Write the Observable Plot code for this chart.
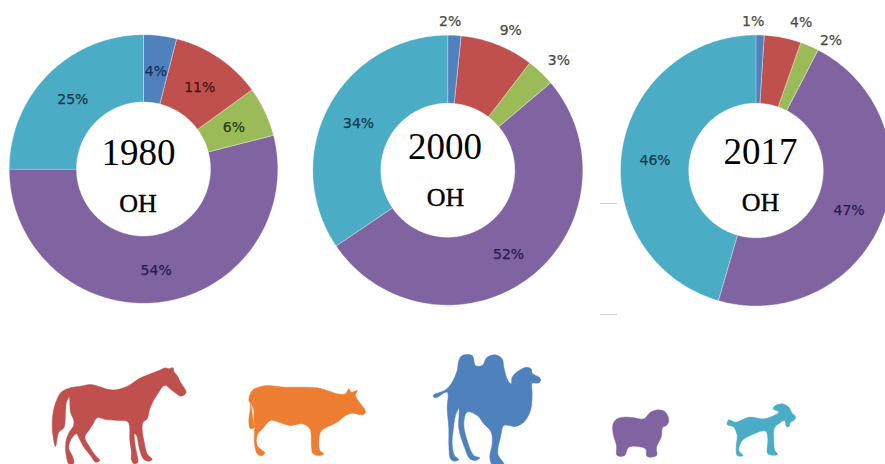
<!DOCTYPE html>
<html><head><meta charset="utf-8">
<style>html,body{margin:0;padding:0;background:#fff;overflow:hidden}svg{display:block}</style>
<script src="https://cdn.jsdelivr.net/npm/d3@7"></script>
<script src="https://cdn.jsdelivr.net/npm/@observablehq/plot@0.6"></script>
</head><body><div id="chart"></div>
<script>
// ---- data ----
const years = ["1980", "2000", "2017"];
const unit = "OH";
const shares1980 = [4, 11, 6, 54, 25];
const shares2000 = [1.6, 8.8, 3.4, 51.6, 34.4];
const shares2017 = [1, 4.4, 2.2, 46.9, 45.5];
const colors = ["#4F81BD", "#C0504D", "#9BBB59", "#8064A2", "#4BACC6"];
const inkInside = ["#17305a", "#4a1412", "#2c3a10", "#2a1a50", "#0f3a4e"];
const ticksGray = [203, 314];

// ---- layout ----
const pies = [
  {shares: shares1980, cx: 143, cy: 168.5, R: 134.3, r: 67, title: [138, 164.5], sub: [137.5, 211],
   radial: [[0,99],[0,100],[0,100],[0,101],[0,100]]},
  {shares: shares2000, cx: 447.3, cy: 169.7, R: 135, r: 67, title: [444.5, 158], sub: [445, 205],
   radial: [[-2,150],[2.5,154],[1.4,157],[1,103],[0,101]]},
  {shares: shares2017, cx: 755.5, cy: 170, R: 135.5, r: 67.3, title: [760, 163], sub: [760, 210],
   radial: [[-2.9,150],[5.3,156],[6.4,151],[1,101],[-2,101.5]]}
];

const horse = [[405,82],[413,85],[428,82],[430,93],[440,105],[450,125],[463,145],[467,155],[462,163],[450,167],[438,160],[422,148],[405,135],[395,140],[385,155],[370,178],[358,205],[350,235],[338,245],[335,265],[342,310],[350,340],[365,357],[355,362],[340,357],[328,330],[318,285],[312,280],[315,320],[320,345],[322,365],[310,370],[302,355],[303,340],[298,300],[293,245],[265,240],[230,238],[200,232],[188,250],[175,270],[163,290],[178,320],[195,345],[208,360],[195,365],[180,345],[160,320],[145,292],[138,280],[120,300],[115,325],[125,345],[130,368],[115,370],[108,350],[105,320],[108,295],[118,272],[128,258],[130,240],[120,215],[116,170],[108,185],[105,215],[100,262],[85,275],[75,318],[68,290],[65,255],[68,215],[78,180],[92,155],[115,143],[150,137],[180,132],[205,138],[240,148],[265,146],[295,135],[325,115],[360,100],[390,88]];
const cow = [[710,135],[760,140],[810,140],[860,142],[890,150],[920,160],[945,160],[955,145],[962,155],[980,150],[975,165],[990,190],[1005,212],[1000,222],[985,222],[965,218],[945,225],[920,245],[885,262],[870,275],[865,310],[868,330],[880,340],[870,345],[848,340],[843,320],[838,265],[815,250],[780,255],[745,245],[720,240],[700,260],[680,285],[680,315],[703,338],[690,346],[680,340],[672,310],[672,268],[670,230],[670,210],[662,190],[668,240],[670,262],[660,265],[655,245],[660,190],[655,180],[665,150],[685,140]];
const camel = [[125,45],[155,45],[165,75],[185,75],[200,50],[225,43],[245,55],[250,80],[262,120],[272,130],[275,110],[295,90],[320,80],[332,85],[335,98],[358,112],[360,122],[350,128],[335,128],[335,160],[330,210],[310,245],[285,258],[265,255],[250,255],[240,290],[232,340],[250,372],[215,372],[208,350],[215,310],[212,275],[190,250],[170,225],[140,215],[130,250],[140,300],[160,345],[178,352],[165,360],[148,355],[130,315],[115,265],[115,205],[105,225],[98,270],[95,310],[102,345],[115,357],[100,362],[90,355],[85,310],[85,265],[80,205],[80,155],[45,172],[38,165],[75,148],[95,125],[110,90],[115,60]];
const sheep = [[610,230],[640,232],[670,235],[690,215],[715,208],[735,215],[745,240],[738,255],[727,260],[722,290],[708,320],[708,345],[680,348],[675,325],[625,320],[612,345],[590,345],[588,315],[578,280],[578,250],[590,235]];
const goat = [[1062,197],[1085,190],[1105,200],[1115,218],[1125,228],[1120,240],[1110,245],[1105,258],[1098,258],[1092,240],[1075,250],[1062,262],[1060,300],[1063,330],[1072,342],[1045,342],[1040,335],[1042,295],[1035,272],[990,285],[965,300],[955,330],[968,345],[950,345],[947,320],[950,285],[940,260],[920,252],[925,238],[945,245],[985,230],[1030,235],[1060,225],[1075,215],[1058,205]];
const animals = [
  {shape: horse, color: "#C0504D", ox: 30, oy: 340},
  {shape: cow, color: "#ED7D31", ox: 30, oy: 340},
  {shape: camel, color: "#4F81BD", ox: 420, oy: 340},
  {shape: sheep, color: "#8064A2", ox: 420, oy: 340},
  {shape: goat, color: "#4BACC6", ox: 420, oy: 340}
];

// ---- build marks ----
const polar = (p, deg, rad) => {
  const a = deg * Math.PI / 180;
  return {x: p.cx + rad * Math.sin(a), y: p.cy - rad * Math.cos(a)};
};
const marks = [];
const labels = [];
pies.forEach((p, i) => {
  const total = d3.sum(p.shares);
  let acc = 0;
  p.shares.forEach((v, j) => {
    const a0 = acc / total * 360, a1 = (acc + v) / total * 360;
    acc += v;
    const n = Math.max(4, Math.ceil(a1 - a0));
    const outer = d3.range(n + 1).map(k => polar(p, a0 + (a1 - a0) * k / n, p.R));
    const inner = d3.range(n + 1).map(k => polar(p, a1 - (a1 - a0) * k / n, p.r));
    marks.push(Plot.line([...outer, ...inner], {
      x: "x", y: "y", fill: colors[j], stroke: "#ffffff", strokeWidth: 0.6, strokeOpacity: 0.55,
      curve: "linear-closed"
    }));
    const [nudge, rad] = p.radial[j];
    labels.push({...polar(p, (a0 + a1) / 2 + nudge, rad), text: Math.round(v) + "%",
      ink: rad > 130 ? "#4a4a44" : inkInside[j]});
  });
  marks.push(Plot.text([years[i]], {x: p.title[0], y: p.title[1], text: d => d, lineAnchor: "bottom",
    fontFamily: "Liberation Serif", fontSize: 37, fill: "#000"}));
  marks.push(Plot.text([unit], {x: p.sub[0], y: p.sub[1], text: d => d, lineAnchor: "bottom",
    fontFamily: "Liberation Serif", fontSize: 26, fill: "#000", stroke: "#000", strokeWidth: 0.4}));
});
marks.push(Plot.text(labels, {x: "x", y: "y", dy: 1, text: "text", fill: "ink", stroke: "ink", strokeWidth: 0.25,
  fontFamily: "DejaVu Sans", fontSize: 14}));
marks.push(Plot.ruleY(ticksGray, {x1: 600, x2: 617, stroke: "#cfcfcf", strokeWidth: 1}));
animals.forEach(an => {
  marks.push(Plot.line(an.shape, {
    x: d => an.ox + d[0] / 3, y: d => an.oy + d[1] / 3,
    fill: an.color, stroke: an.color, strokeWidth: 0.5, curve: "catmull-rom-closed"
  }));
});

const chart = Plot.plot({
  width: 885, height: 464, margin: 0,
  x: {domain: [0, 885], range: [0, 885], axis: null},
  y: {domain: [0, 464], range: [0, 464], axis: null},
  color: {type: "identity"},
  style: {background: "#fff"},
  marks
});
document.getElementById("chart").append(chart);
</script></body></html>
